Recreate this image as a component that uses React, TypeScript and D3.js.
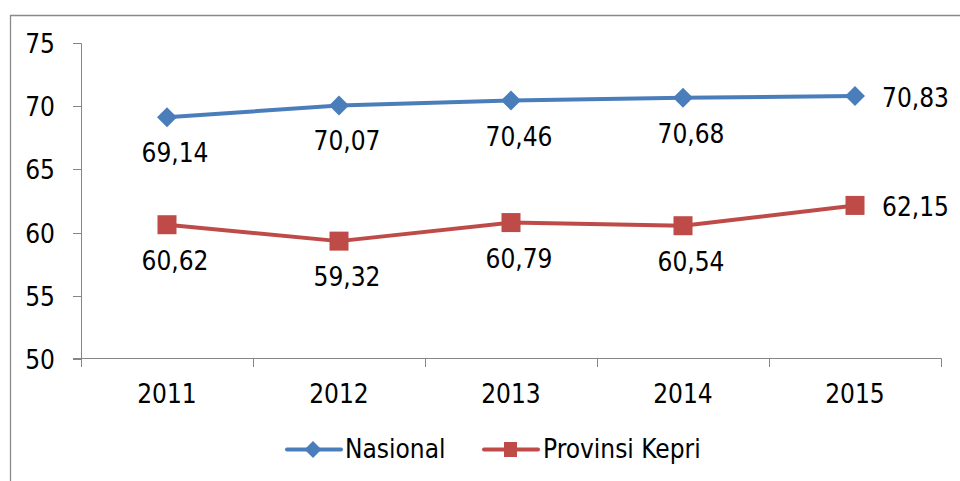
import React from "react";
import * as d3 from "d3";

const years = ["2011", "2012", "2013", "2014", "2015"];
const nasional = [69.14, 70.07, 70.46, 70.68, 70.83];
const kepri = [60.62, 59.32, 60.79, 60.54, 62.15];
const yTicks = [50, 55, 60, 65, 70, 75];
const seriesNames = ["Nasional", "Provinsi Kepri"];

const BLUE = "#4A7EBB";
const RED = "#BE4B48";
const AXIS = "#868686";
const FONT = "'DejaVu Sans Condensed', 'DejaVu Sans', sans-serif";
const FS = 26;

const fmt = (v: number) => v.toFixed(2).replace(".", ",");

export default function App() {
  const x = d3.scaleBand<string>().domain(years).range([81, 941]);
  const y = d3.scaleLinear().domain([50, 75]).range([358.7, 43.3]);
  const cx = (yr: string) => (x(yr) as number) + x.bandwidth() / 2;
  const line = d3
    .line<number>()
    .x((_, i) => cx(years[i]))
    .y((v) => y(v));
  const diamond = (px: number, py: number, r: number) =>
    `M${px},${py - r}L${px + r},${py}L${px},${py + r}L${px - r},${py}Z`;
  const last = years.length - 1;

  const textStyle: React.CSSProperties = {
    fontFamily: FONT,
    fontSize: FS,
    fontStretch: "condensed",
  };

  return (
    <svg
      width={960}
      height={481}
      style={{ position: "absolute", left: 0, top: 0, background: "#fff" }}
    >
      <rect x={0} y={0} width={960} height={481} fill="#fff" />
      {/* frame */}
      <path d="M10.5,490V15.5H970" fill="none" stroke="#898989" strokeWidth={1.3} />

      {/* y axis */}
      <line x1={81.5} x2={81.5} y1={y(75)} y2={y(50)} stroke={AXIS} strokeWidth={1} />
      {yTicks.map((t) => (
        <g key={t}>
          <line x1={73} x2={81.5} y1={Math.round(y(t)) + 0.5} y2={Math.round(y(t)) + 0.5} stroke={AXIS} />
          <text x={55} y={y(t) + 10} textAnchor="end" style={textStyle} fill="#000">
            {t}
          </text>
        </g>
      ))}

      {/* x axis */}
      <line x1={73} x2={941.5} y1={358.5} y2={358.5} stroke={AXIS} />
      {[...years.map((yr) => x(yr) as number), 941].map((px, i) => (
        <line key={i} x1={Math.round(px) + 0.5} x2={Math.round(px) + 0.5} y1={358.5} y2={367} stroke={AXIS} />
      ))}
      {years.map((yr) => (
        <text key={yr} x={cx(yr)} y={403} textAnchor="middle" style={textStyle} fill="#000">
          {yr}
        </text>
      ))}

      {/* Nasional */}
      <path d={line(nasional) || ""} fill="none" stroke={BLUE} strokeWidth={4} strokeLinejoin="round" />
      {nasional.map((v, i) => (
        <path key={i} d={diamond(cx(years[i]), y(v), 10)} fill={BLUE} />
      ))}
      {nasional.map((v, i) =>
        i === last ? (
          <text key={i} x={cx(years[i]) + 27} y={y(v) + 11} style={textStyle} fill="#000">
            {fmt(v)}
          </text>
        ) : (
          <text key={i} x={cx(years[i]) + 8} y={y(v) + 45} textAnchor="middle" style={textStyle} fill="#000">
            {fmt(v)}
          </text>
        )
      )}

      {/* Kepri */}
      <path d={line(kepri) || ""} fill="none" stroke={RED} strokeWidth={4} strokeLinejoin="round" />
      {kepri.map((v, i) => (
        <rect key={i} x={cx(years[i]) - 9.5} y={y(v) - 9.5} width={19} height={19} fill={RED} />
      ))}
      {kepri.map((v, i) =>
        i === last ? (
          <text key={i} x={cx(years[i]) + 27} y={y(v) + 11} style={textStyle} fill="#000">
            {fmt(v)}
          </text>
        ) : (
          <text key={i} x={cx(years[i]) + 8} y={y(v) + 45} textAnchor="middle" style={textStyle} fill="#000">
            {fmt(v)}
          </text>
        )
      )}

      {/* legend */}
      <line x1={287} x2={341} y1={449.5} y2={449.5} stroke={BLUE} strokeWidth={4} strokeLinecap="round" />
      <path d={diamond(313, 449.5, 8.5)} fill={BLUE} />
      <text x={345} y={458} style={textStyle} fill="#000">
        {seriesNames[0]}
      </text>
      <line x1={484} x2={538} y1={449.5} y2={449.5} stroke={RED} strokeWidth={4} strokeLinecap="round" />
      <rect x={504} y={442} width={13} height={15} fill={RED} />
      <text x={543} y={458} style={textStyle} fill="#000">
        {seriesNames[1]}
      </text>
    </svg>
  );
}
